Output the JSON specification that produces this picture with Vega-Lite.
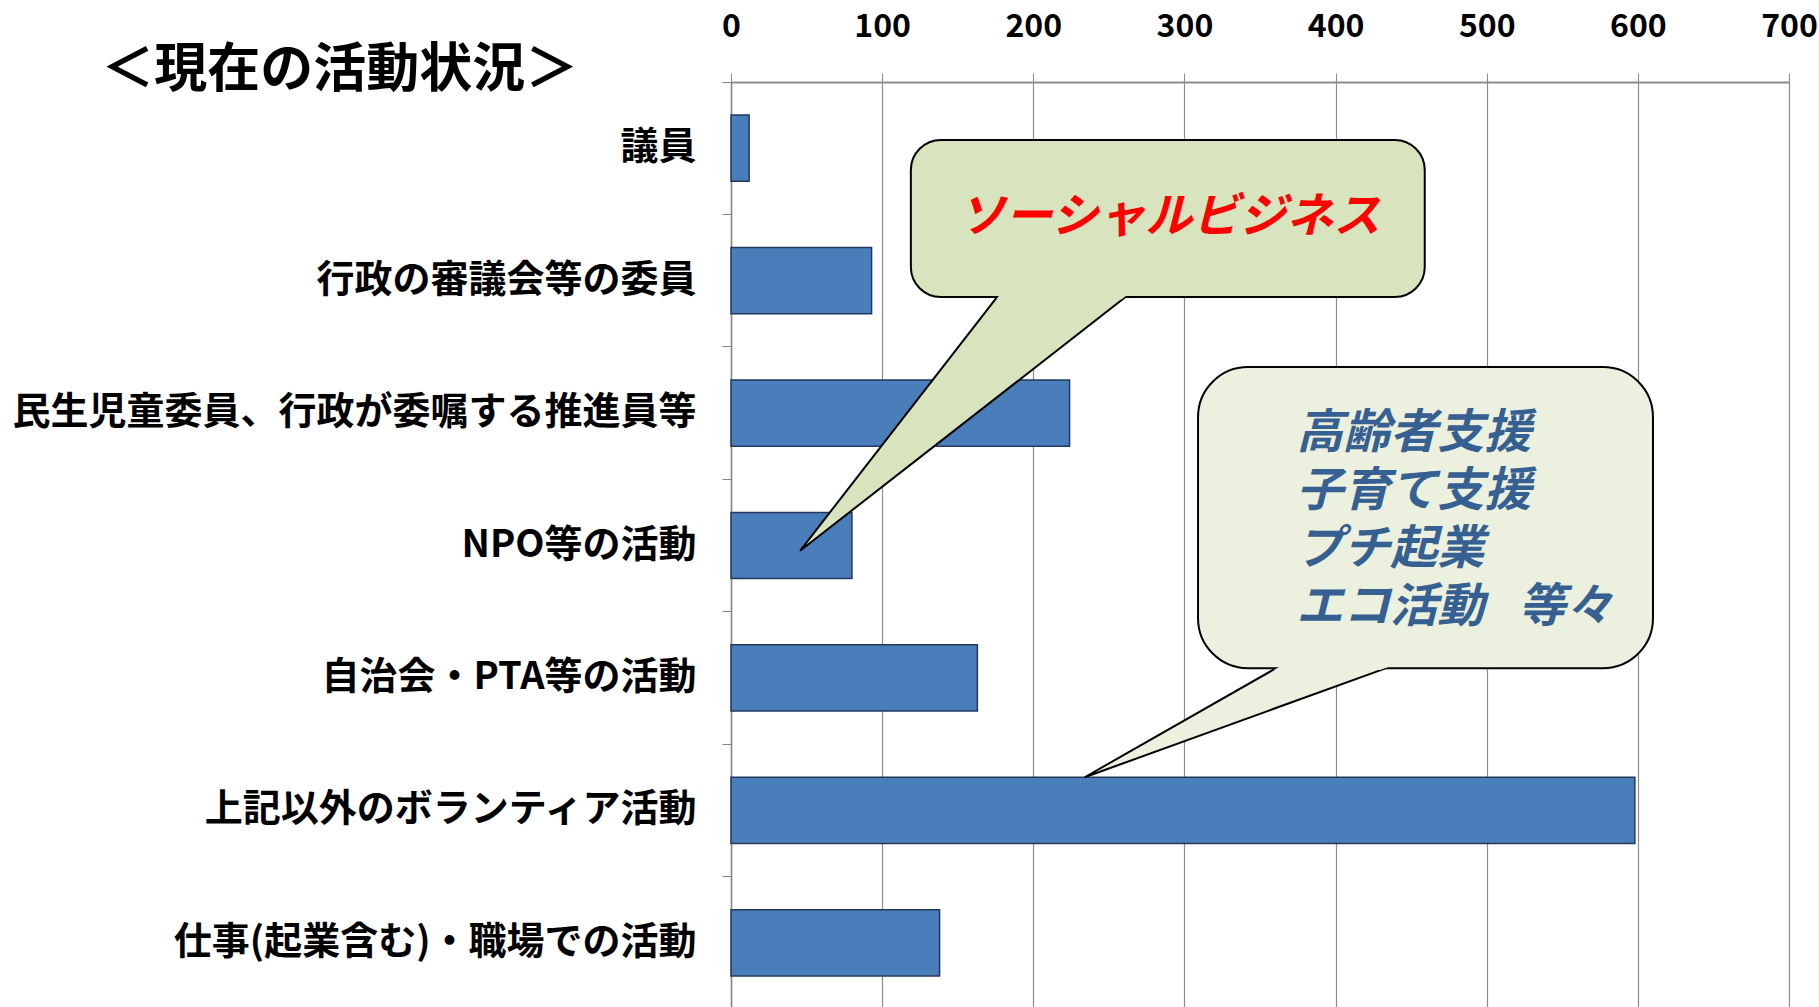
{
  "$schema": "https://vega.github.io/schema/vega-lite/v6.json",
  "width": 1058,
  "height": 927,
  "autosize": {"type": "none"},
  "padding": {"left": 731, "top": 82, "right": 30, "bottom": 0},
  "background": "white",
  "config": {"view": {"stroke": null}, "font": "Noto Sans CJK JP"},
  "datasets": {
    "bars": [
      {"category": "議員", "value": 12},
      {"category": "行政の審議会等の委員", "value": 93},
      {"category": "民生児童委員、行政が委嘱する推進員等", "value": 224},
      {"category": "NPO等の活動", "value": 80},
      {"category": "自治会・PTA等の活動", "value": 163},
      {"category": "上記以外のボランティア活動", "value": 598},
      {"category": "仕事(起業含む)・職場での活動", "value": 138}
    ],
    "tail1": [{"y": 1.624, "x": 176, "x2": 261}, {"y": 3.54, "x": 45.7, "x2": 45.7}],
    "strip1": [{"y": 1.61, "x": 177.6, "x2": 261.9}, {"y": 1.64, "x": 175.6, "x2": 258.5}],
    "box1": [{"x": 119, "x2": 459, "y": 0.438, "y2": 1.624}],
    "label1": [{"x": 290, "y": 1.03, "text": "ソーシャルビジネス"}],
    "tail2": [{"y": 4.426, "x": 360.7, "x2": 433.5}, {"y": 5.25, "x": 234, "x2": 234}],
    "strip2": [{"y": 4.41, "x": 363.9, "x2": 436.7}, {"y": 4.44, "x": 359.2, "x2": 429.4}],
    "box2": [{"x": 309, "x2": 610, "y": 2.153, "y2": 4.426}],
    "label2": [
      {"x": 374, "y": 2.655, "text": "高齢者支援\n子育て支援\nプチ起業\nエコ活動\u2002 等々"}
    ],
    "heading": [{"x": -258.8, "y": -0.08, "text": "＜現在の活動状況＞"}]
  },
  "layer": [
    {
      "data": {"name": "bars"},
      "mark": {"type": "bar", "fill": "#4A7EBB", "stroke": "#22385E", "strokeWidth": 1.5},
      "encoding": {
        "y": {
          "field": "category", "type": "nominal", "sort": null,
          "scale": {"paddingInner": 0.5, "paddingOuter": 0.25},
          "axis": {"title": null, "labelFontSize": 38, "labelFontWeight": "bold", "labelColor": "#000000", "labelLimit": 1000, "labelPadding": 26, "bandPosition": -0.5, "tickSize": 9, "tickColor": "#888888", "domainColor": "#888888", "domainWidth": 1.5, "grid": false}
        },
        "x": {
          "field": "value", "type": "quantitative", "title": null,
          "scale": {"domain": [0, 700], "nice": false},
          "axis": {"orient": "top", "title": null, "values": [0, 100, 200, 300, 400, 500, 600, 700], "grid": true, "gridColor": "#8c8c8c", "gridWidth": 1.2, "tickSize": 9, "tickColor": "#8c8c8c", "domainColor": "#8c8c8c", "domainWidth": 1.8, "labelFontSize": 32, "labelFontWeight": "bold", "labelColor": "#000000", "labelPadding": 30, "labelFlush": false, "labelOverlap": false}
        }
      }
    },
    {
      "data": {"name": "tail1"},
      "mark": {"type": "area", "orient": "horizontal", "fill": "#D7E4BD", "stroke": "#000000", "strokeWidth": 2, "opacity": 1},
      "encoding": {
        "y": {"field": "y", "type": "quantitative", "scale": {"domain": [0, 7], "reverse": true, "nice": false, "zero": false}, "axis": null},
        "x": {"field": "x", "type": "quantitative", "title": null, "scale": {"domain": [0, 700], "nice": false}},
        "x2": {"field": "x2"}
      }
    },
    {
      "data": {"name": "box1"},
      "mark": {"type": "rect", "fill": "#D7E4BD", "stroke": "#000000", "strokeWidth": 2, "cornerRadius": 30},
      "encoding": {
        "y": {"field": "y", "type": "quantitative", "scale": {"domain": [0, 7], "reverse": true, "nice": false, "zero": false}, "axis": null},
        "y2": {"field": "y2"},
        "x": {"field": "x", "type": "quantitative", "title": null, "scale": {"domain": [0, 700], "nice": false}},
        "x2": {"field": "x2"}
      }
    },
    {
      "data": {"name": "strip1"},
      "mark": {"type": "area", "orient": "horizontal", "fill": "#D7E4BD", "opacity": 1},
      "encoding": {
        "y": {"field": "y", "type": "quantitative", "scale": {"domain": [0, 7], "reverse": true, "nice": false, "zero": false}, "axis": null},
        "x": {"field": "x", "type": "quantitative", "title": null, "scale": {"domain": [0, 700], "nice": false}},
        "x2": {"field": "x2"}
      }
    },
    {
      "data": {"name": "label1"},
      "mark": {"type": "text", "fontSize": 47, "fontWeight": "bold", "fontStyle": "italic", "color": "#FF0000", "align": "center", "baseline": "middle"},
      "encoding": {
        "y": {"field": "y", "type": "quantitative", "scale": {"domain": [0, 7], "reverse": true, "nice": false, "zero": false}, "axis": null},
        "x": {"field": "x", "type": "quantitative", "title": null, "scale": {"domain": [0, 700], "nice": false}},
        "text": {"field": "text"}
      }
    },
    {
      "data": {"name": "tail2"},
      "mark": {"type": "area", "orient": "horizontal", "fill": "#EBF1DE", "stroke": "#000000", "strokeWidth": 2, "opacity": 1},
      "encoding": {
        "y": {"field": "y", "type": "quantitative", "scale": {"domain": [0, 7], "reverse": true, "nice": false, "zero": false}, "axis": null},
        "x": {"field": "x", "type": "quantitative", "title": null, "scale": {"domain": [0, 700], "nice": false}},
        "x2": {"field": "x2"}
      }
    },
    {
      "data": {"name": "box2"},
      "mark": {"type": "rect", "fill": "#EBF1DE", "stroke": "#000000", "strokeWidth": 2, "cornerRadius": 50},
      "encoding": {
        "y": {"field": "y", "type": "quantitative", "scale": {"domain": [0, 7], "reverse": true, "nice": false, "zero": false}, "axis": null},
        "y2": {"field": "y2"},
        "x": {"field": "x", "type": "quantitative", "title": null, "scale": {"domain": [0, 700], "nice": false}},
        "x2": {"field": "x2"}
      }
    },
    {
      "data": {"name": "strip2"},
      "mark": {"type": "area", "orient": "horizontal", "fill": "#EBF1DE", "opacity": 1},
      "encoding": {
        "y": {"field": "y", "type": "quantitative", "scale": {"domain": [0, 7], "reverse": true, "nice": false, "zero": false}, "axis": null},
        "x": {"field": "x", "type": "quantitative", "title": null, "scale": {"domain": [0, 700], "nice": false}},
        "x2": {"field": "x2"}
      }
    },
    {
      "data": {"name": "label2"},
      "mark": {"type": "text", "fontSize": 47, "fontWeight": "bold", "fontStyle": "italic", "color": "#376092", "align": "left", "baseline": "middle", "lineBreak": "\n", "lineHeight": 58},
      "encoding": {
        "y": {"field": "y", "type": "quantitative", "scale": {"domain": [0, 7], "reverse": true, "nice": false, "zero": false}, "axis": null},
        "x": {"field": "x", "type": "quantitative", "title": null, "scale": {"domain": [0, 700], "nice": false}},
        "text": {"field": "text"}
      }
    },
    {
      "data": {"name": "heading"},
      "mark": {"type": "text", "fontSize": 53, "fontWeight": "bold", "color": "#000000", "align": "center", "baseline": "middle"},
      "encoding": {
        "y": {"field": "y", "type": "quantitative", "scale": {"domain": [0, 7], "reverse": true, "nice": false, "zero": false}, "axis": null},
        "x": {"field": "x", "type": "quantitative", "title": null, "scale": {"domain": [0, 700], "nice": false}},
        "text": {"field": "text"}
      }
    }
  ],
  "resolve": {"scale": {"y": "independent"}}
}
